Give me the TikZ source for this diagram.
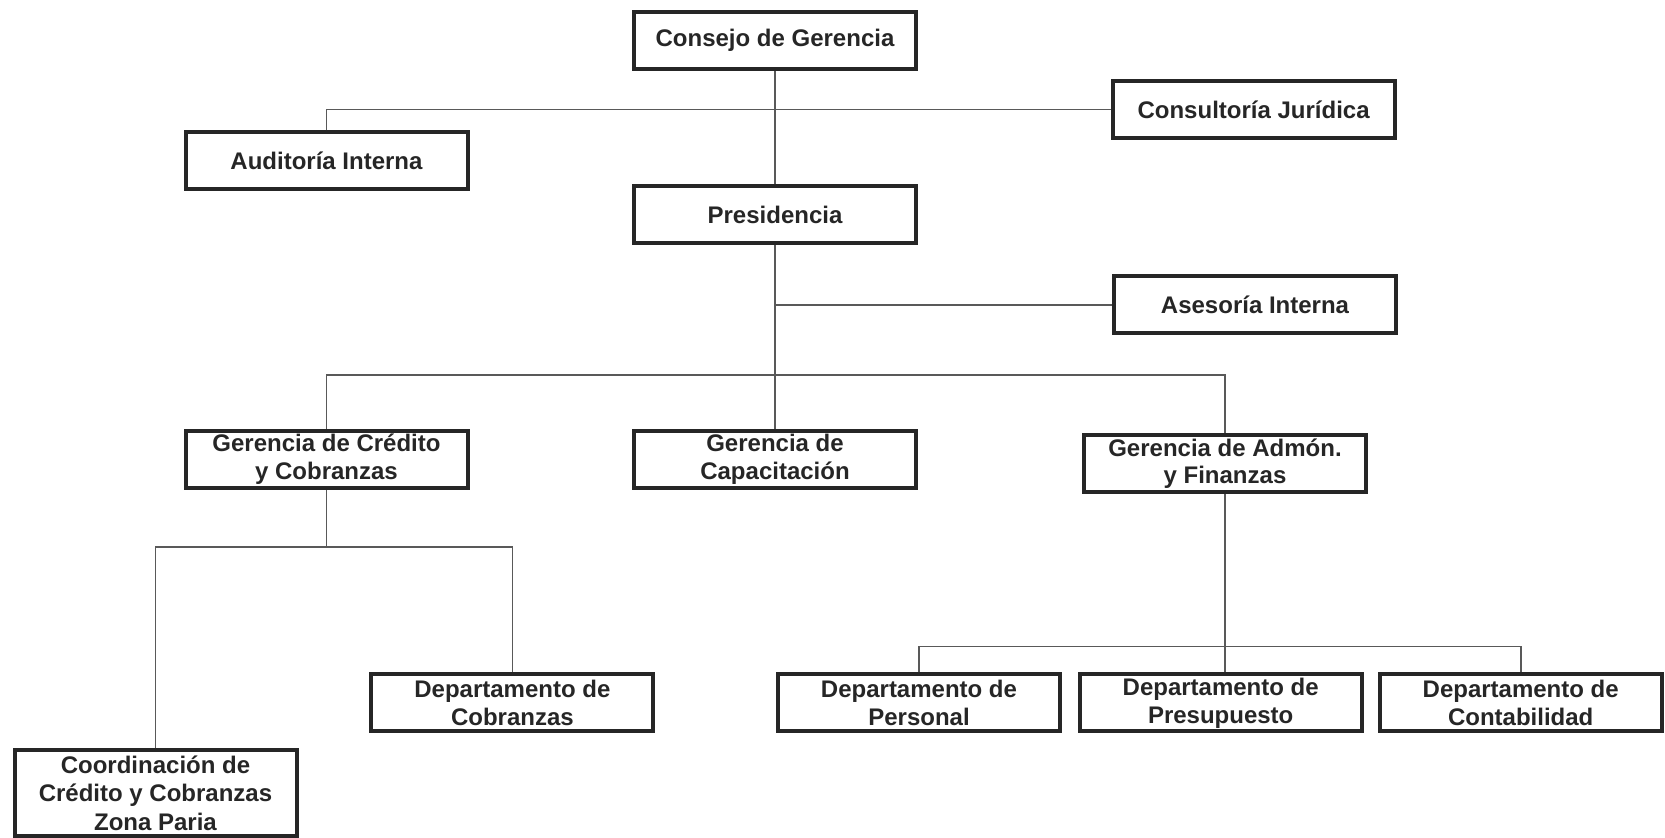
\documentclass[tikz,border=0pt]{standalone}
\usepackage{fontspec}
\setmainfont{Liberation Sans}
\usepackage{tikz}

\begin{document}
\begin{tikzpicture}[x=0.5pt, y=-0.5pt,
    unit/.style={draw=black!85, line width=2pt, minimum width=141pt, minimum height=28.5pt,
        inner sep=1pt, align=center, text=black!85,
        font=\fontsize{12}{13.8}\selectfont\bfseries},
    link/.style={draw=black!65, line width=0.8pt}]
    \useasboundingbox (0,0) rectangle (1665,838);
    % top levels
    \node[unit] (CG) at (775,40.4) {Consejo de Gerencia};
    \node[unit] (CJ) at (1253.6,109.4) {Consultoría Jurídica};
    \node[unit] (AI) at (326.5,160.9) {Auditoría Interna};
    \node[unit] (P) at (775,215) {Presidencia};
    \node[unit] (AS) at (1255,305) {Asesoría Interna};
    % gerencias
    \node[unit] (GC) at (326.5,459.3) {Gerencia de Crédito\\y Cobranzas};
    \node[unit] (GK) at (775,459.3) {Gerencia de\\Capacitación};
    \node[unit] (GA) at (1225,463.5) {Gerencia de Admón.\\y Finanzas};
    % departamentos
    \node[unit] (DC) at (512.4,703) {Departamento de\\Cobranzas};
    \node[unit, minimum height=43pt, font=\fontsize{12}{14.3}\selectfont\bfseries] (ZP) at (155.5,793) {Coordinación de\\Crédito y Cobranzas\\Zona Paria};
    \node[unit] (DP) at (919,703) {Departamento de\\Personal};
    \node[unit] (DU) at (1220.7,703) {Departamento de\\Presupuesto};
    \node[unit] (DB) at (1520.7,703) {Departamento de\\Contabilidad};
    \coordinate (B1) at (775,374.9);
    \coordinate (B2) at (326.5,546.9);
    \coordinate (B3) at (1225,646.7);
    % connectors
    \draw[link] (CG) -- (P);
    \draw[link] (AI.north) |- (CJ.west);
    \draw[link] (AS.west) -- (AS.west -| P.south);
    \draw[link] (P) -- (GK);
    \draw[link] (GC.north) |- (B1) -| (GA.north);
    \draw[link] (GC.south) -- (B2);
    \draw[link] (ZP.north) |- (B2) -| (DC.north);
    \draw[link] (GA.south) -- (GA.south |- DU.north);
    \draw[link] (DP.north) |- (B3) -| (DB.north);
\end{tikzpicture}
\end{document}
